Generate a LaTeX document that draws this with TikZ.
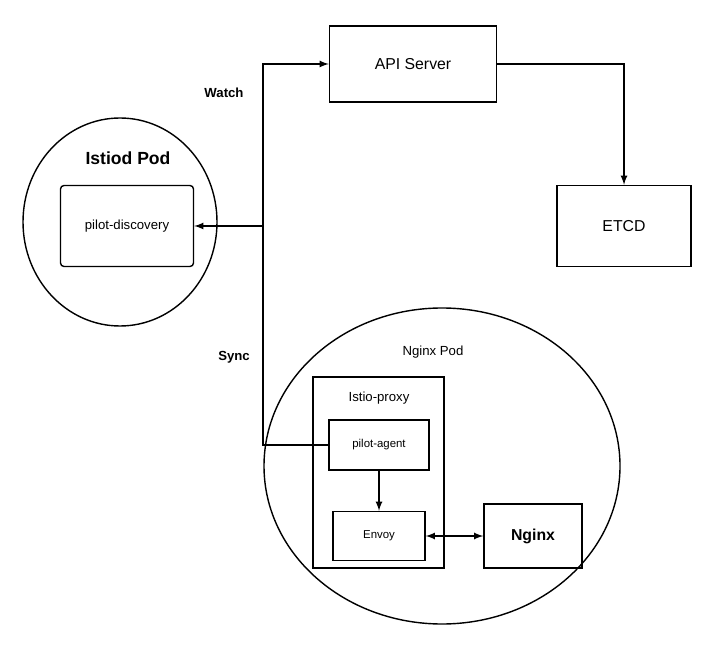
\documentclass[tikz,border=0pt]{standalone}
\usepackage{fontspec}
\setmainfont{Liberation Sans}
\usetikzlibrary{positioning}
\begin{document}
\begin{tikzpicture}[x=0.02cm,y=-0.02cm,
    box/.style={draw,thick,inner sep=0pt},
    pod/.style={draw,thick,ellipse},
    line/.style={thick},
    arr/.style={thick,-latex}]
    \useasboundingbox (0,0) rectangle (716,651);

    % pods
    \draw[thick] (120,222) ellipse [x radius=97,y radius=104];
    \draw[thick] (442,466) ellipse [x radius=178,y radius=158];
    \node[font=\bfseries\fontsize{10}{12}\selectfont] (istiodlabel) at (128,158) {Istiod Pod};
    \node[font=\fontsize{7.5}{9}\selectfont] (nginxpodlabel) at (433,352) {Nginx Pod};

    % boxes
    \node[box,minimum width=167*0.02cm,minimum height=76*0.02cm,font=\fontsize{9}{11}\selectfont] (api) at (413,64) {API Server};
    \node[box,minimum width=134*0.02cm,minimum height=81*0.02cm,font=\fontsize{9}{11}\selectfont] (etcd) at (624,226) {ETCD};
    \node[box,rounded corners=2pt,minimum width=133*0.02cm,minimum height=81*0.02cm,font=\fontsize{7.5}{9}\selectfont] (discovery) at (127,226) {pilot-discovery};
    \draw[thick] (313,377) rectangle (444,568);
    \node[font=\fontsize{7.5}{9}\selectfont] (proxylabel) at (379,398) {Istio-proxy};
    \node[box,minimum width=100*0.02cm,minimum height=50*0.02cm,font=\fontsize{6.5}{8}\selectfont] (agent) at (379,445) {pilot-agent};
    \node[box,minimum width=92*0.02cm,minimum height=49*0.02cm,font=\fontsize{6.5}{8}\selectfont] (envoy) at (379,536) {Envoy};
    \node[box,minimum width=98*0.02cm,minimum height=64*0.02cm,font=\bfseries\fontsize{9}{11}\selectfont] (nginx) at (533,536) {Nginx};

    % connectors
    \coordinate (top) at (263,64);
    \coordinate (mid) at (263,226);
    \coordinate (bot) at (263,445);
    \draw[arr] (agent.west) -- (bot) -- (top) -- (api.west);
    \draw[arr] (mid) -- (discovery.east);
    \draw[arr] (api.east) -| (etcd.north);
    \draw[arr] (agent.south) -- (envoy.north);
    \draw[thick,latex-latex] (envoy.east) -- (nginx.west);

    \node[font=\bfseries\fontsize{7.5}{9}\selectfont] (watch) at (224,93) {Watch};
    \node[font=\bfseries\fontsize{7.5}{9}\selectfont] (sync) at (234,357) {Sync};
\end{tikzpicture}
\end{document}
